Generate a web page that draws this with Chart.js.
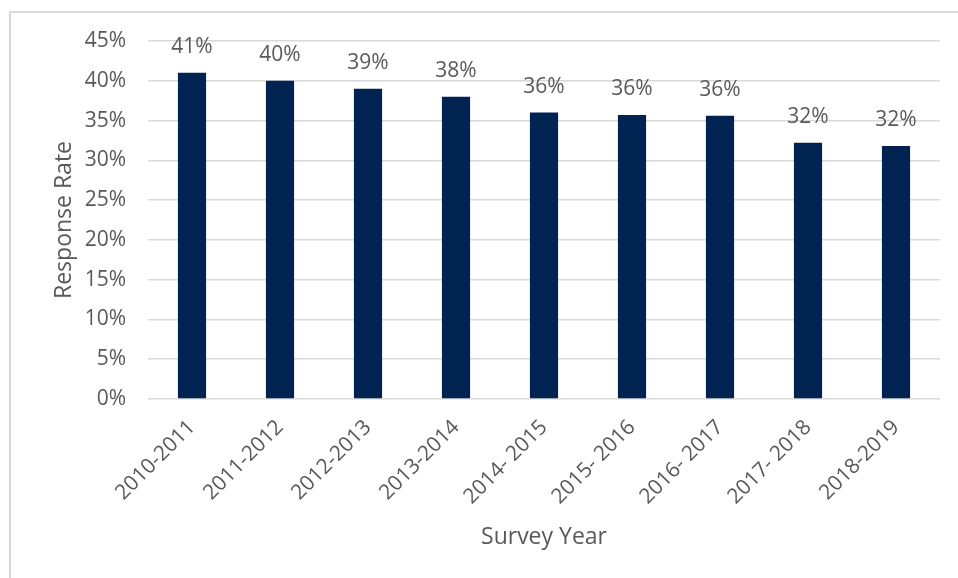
<!DOCTYPE html>
<html>
<head>
<meta charset="utf-8">
<script src="https://cdn.jsdelivr.net/npm/chart.js@4/dist/chart.umd.min.js"></script>
<style>
  html, body { margin: 0; padding: 0; background: #fff; overflow: hidden; }
  #wrap { position: relative; width: 958px; height: 578px; }
  #frame { position: absolute; left: 9px; top: 11px; width: 1200px; height: 1200px;
           border: 2px solid #d9d9d9; box-sizing: border-box; }
  canvas { position: absolute; left: 0; top: 0; }
</style>
</head>
<body>
<div id="wrap">
  <div id="frame"></div>
  <canvas id="chart" width="958" height="578"></canvas>
</div>
<script>
const YEARS = ['2010-2011', '2011-2012', '2012-2013', '2013-2014', '2014- 2015',
               '2015- 2016', '2016- 2017', '2017- 2018', '2018-2019'];
const RATES = [41.0, 40.0, 39.0, 38.0, 36.0, 35.7, 35.6, 32.2, 31.8];

const TEXT = '#595959';
const FONT = 'Open Sans';

// labels above each bar
const barLabels = {
  id: 'barLabels',
  afterDatasetsDraw(chart) {
    const ctx = chart.ctx;
    const meta = chart.getDatasetMeta(0);
    ctx.save();
    ctx.font = `21px "${FONT}"`;
    ctx.fillStyle = TEXT;
    ctx.textAlign = 'center';
    ctx.textBaseline = 'middle';
    meta.data.forEach((bar, i) => {
      ctx.fillText(Math.round(RATES[i]) + '%', bar.x, bar.y - 26);
    });
    ctx.restore();
  },
};

new Chart(document.getElementById('chart'), {
  type: 'bar',
  data: {
    labels: YEARS,
    datasets: [{
      data: RATES,
      backgroundColor: '#002352',
      barPercentage: 0.32,
      categoryPercentage: 1,
    }],
  },
  options: {
    responsive: false,
    animation: false,
    layout: { padding: { left: 0, top: 41, right: 18, bottom: 0 } },
    plugins: { legend: { display: false }, tooltip: { enabled: false } },
    scales: {
      x: {
        grid: { display: false, drawTicks: false },
        border: { display: false },
        ticks: {
          color: TEXT, font: { family: FONT, size: 21 },
          minRotation: 45, maxRotation: 45, padding: 16,
        },
        title: {
          display: true, text: 'Survey Year', color: TEXT,
          font: { family: FONT, size: 23 }, padding: { bottom: 27 },
        },
        afterFit: s => { s.height = 179; },
      },
      y: {
        min: 0, max: 45,
        grid: { color: '#d9d9d9', lineWidth: 1.5, drawTicks: false },
        border: { display: false },
        ticks: {
          stepSize: 5, color: TEXT, font: { family: FONT, size: 21 }, padding: 22,
          callback: v => v + '%',
        },
        title: {
          display: true, text: 'Response Rate', color: TEXT,
          font: { family: FONT, size: 23 }, padding: { top: 51 },
        },
        afterFit: s => { s.width = 148; },
      },
    },
  },
  plugins: [barLabels],
});
</script>
</body>
</html>
